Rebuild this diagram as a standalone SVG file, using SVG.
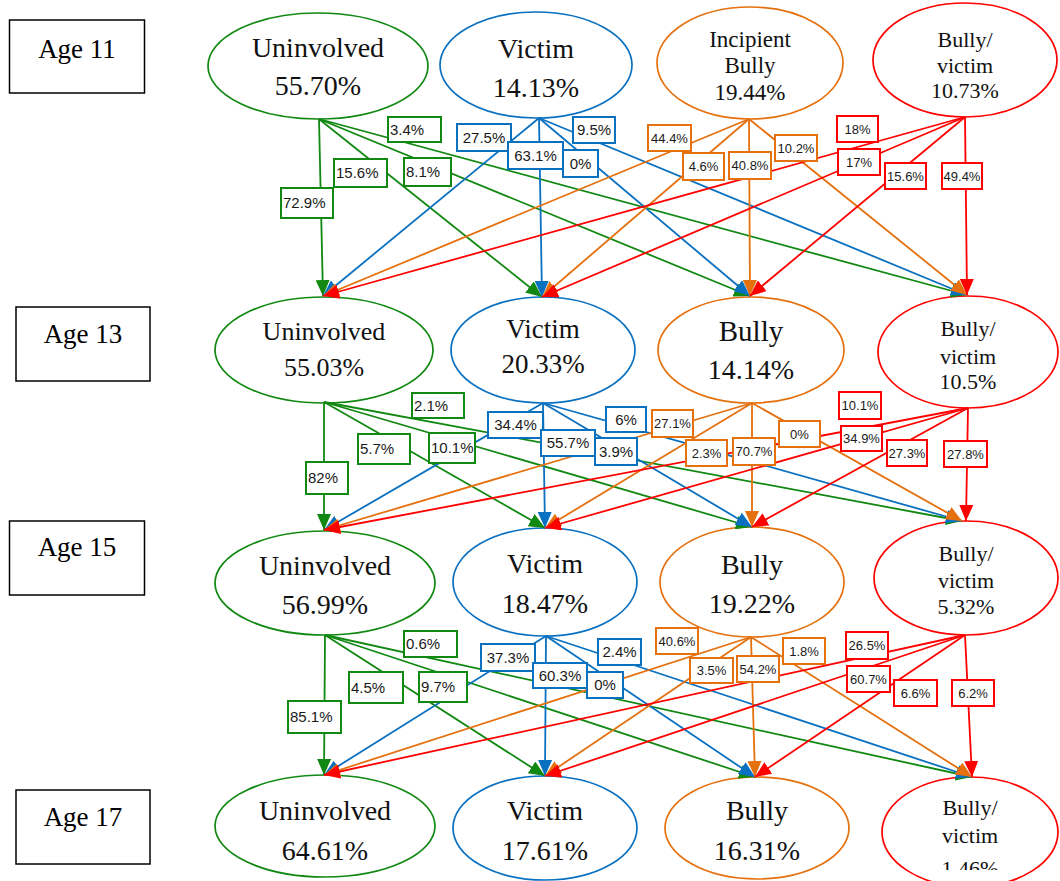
<svg xmlns="http://www.w3.org/2000/svg" width="1060" height="881" viewBox="0 0 1060 881">
<style>
.bg{fill:#fff}
.age rect{fill:#fff;stroke:#000;stroke-width:1.5}
.age text{font-family:"Liberation Serif","Times New Roman",serif;font-size:27px;fill:#000;text-anchor:middle}
.nd text{font-family:"Liberation Serif","Times New Roman",serif;fill:#111;text-anchor:middle}
.nd ellipse{fill:#fff;stroke-width:1.7}
.g ellipse{stroke:#118811}.b ellipse{stroke:#0A70C0}.o ellipse{stroke:#E5700E}.r ellipse{stroke:#FF0000}
.big{font-size:28px}.med{font-size:23px}.sm{font-size:22px}
line{stroke-width:1.8;fill:none}
.eg{stroke:#118811;marker-end:url(#ag)}.eb{stroke:#0A70C0;marker-end:url(#ab)}.eo{stroke:#E5700E;marker-end:url(#ao)}.er{stroke:#FF0000;marker-end:url(#ar)}
.lb rect{fill:#fff;stroke-width:2}
.lb text{font-family:"Liberation Sans",Arial,sans-serif;fill:#1a1a1a}
.lg rect{stroke:#118811}.lbl rect{stroke:#0A70C0}.lo rect{stroke:#E5700E}.lr rect{stroke:#FF0000}
.lg text{font-size:15px}.lbl text{font-size:15px;text-anchor:middle}.lo text,.lr text{font-size:13px;text-anchor:middle}
</style>
<defs>
<marker id="ag" markerUnits="userSpaceOnUse" markerWidth="16" markerHeight="14" viewBox="0 0 16 14" refX="16" refY="7" orient="auto"><path d="M0,0 L16,7 L0,14 z" fill="#118811"/></marker>
<marker id="ab" markerUnits="userSpaceOnUse" markerWidth="16" markerHeight="14" viewBox="0 0 16 14" refX="16" refY="7" orient="auto"><path d="M0,0 L16,7 L0,14 z" fill="#0A70C0"/></marker>
<marker id="ao" markerUnits="userSpaceOnUse" markerWidth="16" markerHeight="14" viewBox="0 0 16 14" refX="16" refY="7" orient="auto"><path d="M0,0 L16,7 L0,14 z" fill="#E5700E"/></marker>
<marker id="ar" markerUnits="userSpaceOnUse" markerWidth="16" markerHeight="14" viewBox="0 0 16 14" refX="16" refY="7" orient="auto"><path d="M0,0 L16,7 L0,14 z" fill="#FF0000"/></marker>
<clipPath id="clipbv"><rect x="880" y="770" width="180" height="100"/></clipPath>
</defs>
<rect class="bg" x="0" y="0" width="1060" height="881"/>

<g id="age-11" class="age"><rect x="9.5" y="20" width="135" height="73"/><text x="77" y="58">Age 11</text></g>
<g id="age-13" class="age"><rect x="16" y="307" width="134" height="74"/><text x="83" y="343">Age 13</text></g>
<g id="age-15" class="age"><rect x="9.5" y="521" width="135" height="74"/><text x="77" y="556">Age 15</text></g>
<g id="age-17" class="age"><rect x="16" y="790" width="134" height="74"/><text x="83" y="826">Age 17</text></g>

<!-- Nodes -->
<g id="a11-uninvolved" class="nd g"><ellipse cx="318" cy="66" rx="110" ry="53"/><text class="big" x="318" y="57">Uninvolved</text><text class="big" x="318" y="95">55.70%</text></g>
<g id="a11-victim" class="nd b"><ellipse cx="536" cy="65" rx="96" ry="53"/><text class="big" x="536" y="58">Victim</text><text class="big" x="536" y="97">14.13%</text></g>
<g id="a11-incipient-bully" class="nd o"><ellipse cx="750" cy="63" rx="93" ry="56"/><text class="med" x="750" y="47">Incipient</text><text class="med" x="750" y="73">Bully</text><text class="med" x="750" y="100">19.44%</text></g>
<g id="a11-bully-victim" class="nd r"><ellipse cx="965" cy="60" rx="92" ry="57"/><text class="sm" x="965" y="47">Bully/</text><text class="sm" x="965" y="73">victim</text><text class="sm" x="965" y="98">10.73%</text></g>

<g id="a13-uninvolved" class="nd g"><ellipse cx="324" cy="350" rx="109" ry="53"/><text style="font-size:26px" x="324" y="340">Uninvolved</text><text style="font-size:26px" x="324" y="376">55.03%</text></g>
<g id="a13-victim" class="nd b"><ellipse cx="543" cy="350" rx="92" ry="53"/><text style="font-size:27px" x="543" y="338">Victim</text><text style="font-size:27px" x="543" y="373">20.33%</text></g>
<g id="a13-bully" class="nd o"><ellipse cx="751" cy="350" rx="93" ry="53"/><text style="font-size:29px" x="751" y="341">Bully</text><text class="big" x="751" y="379">14.14%</text></g>
<g id="a13-bully-victim" class="nd r"><ellipse cx="968" cy="352" rx="90" ry="56"/><text class="sm" x="968" y="336">Bully/</text><text class="sm" x="968" y="364">victim</text><text class="sm" x="968" y="389">10.5%</text></g>

<g id="a15-uninvolved" class="nd g"><ellipse cx="325" cy="583" rx="110" ry="52"/><text class="big" x="325" y="575">Uninvolved</text><text class="big" x="325" y="614">56.99%</text></g>
<g id="a15-victim" class="nd b"><ellipse cx="545" cy="582" rx="92" ry="54"/><text class="big" x="545" y="573">Victim</text><text class="big" x="545" y="613">18.47%</text></g>
<g id="a15-bully" class="nd o"><ellipse cx="752" cy="582" rx="92" ry="55"/><text class="big" x="752" y="574">Bully</text><text class="big" x="752" y="613">19.22%</text></g>
<g id="a15-bully-victim" class="nd r"><ellipse cx="966" cy="578" rx="92" ry="57"/><text class="sm" x="966" y="561">Bully/</text><text class="sm" x="966" y="588">victim</text><text class="sm" x="966" y="614">5.32%</text></g>

<g id="a17-uninvolved" class="nd g"><ellipse cx="325" cy="826" rx="110" ry="51"/><text class="big" x="325" y="820">Uninvolved</text><text class="big" x="325" y="860">64.61%</text></g>
<g id="a17-victim" class="nd b"><ellipse cx="545" cy="828" rx="92" ry="52"/><text class="big" x="545" y="820">Victim</text><text class="big" x="545" y="860">17.61%</text></g>
<g id="a17-bully" class="nd o"><ellipse cx="757" cy="828" rx="92" ry="51"/><text class="big" x="757" y="820">Bully</text><text class="big" x="757" y="860">16.31%</text></g>
<g id="a17-bully-victim" class="nd r"><ellipse cx="970" cy="832" rx="88" ry="55"/><text class="sm" x="970" y="815">Bully/</text><text class="sm" x="970" y="843">victim</text><text class="sm" x="970" y="876" clip-path="url(#clipbv)">1.46%</text></g>

<g id="connectors">
<!-- Age 11 -> 13 -->
<line class="eg" x1="319" y1="119" x2="323" y2="296"/>
<line class="eg" x1="319" y1="119" x2="542" y2="297"/>
<line class="eg" x1="319" y1="119" x2="750" y2="296"/>
<line class="eg" x1="319" y1="119" x2="967" y2="295"/>
<line class="eb" x1="539" y1="118" x2="323" y2="296"/>
<line class="eb" x1="539" y1="118" x2="542" y2="297"/>
<line class="eb" x1="539" y1="118" x2="750" y2="296"/>
<line class="eb" x1="539" y1="118" x2="967" y2="295"/>
<line class="eo" x1="749" y1="119" x2="323" y2="296"/>
<line class="eo" x1="749" y1="119" x2="542" y2="297"/>
<line class="eo" x1="749" y1="119" x2="750" y2="296"/>
<line class="eo" x1="749" y1="119" x2="967" y2="295"/>
<line class="er" x1="965" y1="117" x2="323" y2="296"/>
<line class="er" x1="965" y1="117" x2="542" y2="297"/>
<line class="er" x1="965" y1="117" x2="750" y2="296"/>
<line class="er" x1="965" y1="117" x2="967" y2="295"/>
<!-- Age 13 -> 15 -->
<line class="eg" x1="324" y1="402" x2="324" y2="530"/>
<line class="eg" x1="324" y1="402" x2="545" y2="528"/>
<line class="eg" x1="324" y1="402" x2="752" y2="527"/>
<line class="eg" x1="324" y1="402" x2="962" y2="521"/>
<line class="eb" x1="543" y1="403" x2="324" y2="530"/>
<line class="eb" x1="543" y1="403" x2="545" y2="528"/>
<line class="eb" x1="543" y1="403" x2="752" y2="527"/>
<line class="eb" x1="543" y1="403" x2="962" y2="521"/>
<line class="eo" x1="752" y1="403" x2="324" y2="530"/>
<line class="eo" x1="752" y1="403" x2="545" y2="528"/>
<line class="eo" x1="752" y1="403" x2="752" y2="527"/>
<line class="eo" x1="752" y1="403" x2="962" y2="521"/>
<line class="er" x1="968" y1="408" x2="324" y2="530"/>
<line class="er" x1="968" y1="408" x2="545" y2="528"/>
<line class="er" x1="968" y1="408" x2="752" y2="527"/>
<line class="er" x1="968" y1="408" x2="966" y2="521"/>
<!-- Age 15 -> 17 -->
<line class="eg" x1="325" y1="635" x2="324" y2="775"/>
<line class="eg" x1="325" y1="635" x2="545" y2="776"/>
<line class="eg" x1="325" y1="635" x2="755" y2="777"/>
<line class="eg" x1="325" y1="635" x2="972" y2="777"/>
<line class="eb" x1="546" y1="636" x2="324" y2="775"/>
<line class="eb" x1="546" y1="636" x2="545" y2="776"/>
<line class="eb" x1="546" y1="636" x2="755" y2="777"/>
<line class="eb" x1="546" y1="636" x2="972" y2="777"/>
<line class="eo" x1="751" y1="637" x2="324" y2="775"/>
<line class="eo" x1="751" y1="637" x2="545" y2="776"/>
<line class="eo" x1="751" y1="637" x2="755" y2="777"/>
<line class="eo" x1="751" y1="637" x2="972" y2="777"/>
<line class="er" x1="965" y1="635" x2="324" y2="775"/>
<line class="er" x1="965" y1="635" x2="545" y2="776"/>
<line class="er" x1="965" y1="635" x2="755" y2="777"/>
<line class="er" x1="965" y1="635" x2="972" y2="777"/>

<!-- labels 11 -> 13 -->
<g class="lb lg">
<rect x="281" y="188" width="52" height="30"/><text x="283" y="208">72.9%</text>
<rect x="334" y="159" width="53" height="28"/><text x="336" y="178">15.6%</text>
<rect x="404" y="158" width="47" height="28"/><text x="406" y="177">8.1%</text>
<rect x="388" y="117" width="53" height="25"/><text x="390" y="135">3.4%</text>
</g>
<g class="lb lbl">
<rect x="457" y="124" width="54" height="27"/><text x="484" y="143">27.5%</text>
<rect x="508" y="142" width="55" height="27"/><text x="535.5" y="161">63.1%</text>
<rect x="563" y="150" width="35" height="27"/><text x="580.5" y="169">0%</text>
<rect x="573" y="117" width="42" height="26"/><text x="594" y="135">9.5%</text>
</g>
<g class="lb lo">
<rect x="648" y="125" width="43" height="26"/><text x="669.5" y="142.5">44.4%</text>
<rect x="683" y="153" width="41" height="27"/><text x="703.5" y="171">4.6%</text>
<rect x="729" y="152" width="42" height="27"/><text x="750" y="170">40.8%</text>
<rect x="775" y="135" width="42" height="26"/><text x="796" y="152.5">10.2%</text>
</g>
<g class="lb lr">
<rect x="837" y="116" width="41" height="26"/><text x="857.5" y="133.5">18%</text>
<rect x="838" y="149" width="42" height="26"/><text x="859" y="166.5">17%</text>
<rect x="885" y="163" width="41" height="26"/><text x="905.5" y="180.5">15.6%</text>
<rect x="942" y="163" width="40" height="26"/><text x="962" y="180.5">49.4%</text>
</g>
<!-- labels 13 -> 15 -->
<g class="lb lg">
<rect x="306" y="462" width="42" height="32"/><text x="308" y="483">82%</text>
<rect x="358" y="434" width="52" height="30"/><text x="360" y="454">5.7%</text>
<rect x="429" y="433" width="46" height="30"/><text x="431" y="453">10.1%</text>
<rect x="412" y="393" width="52" height="25"/><text x="414" y="411">2.1%</text>
</g>
<g class="lb lbl">
<rect x="488" y="412" width="55" height="26"/><text x="515.5" y="430">34.4%</text>
<rect x="541" y="430" width="54" height="26"/><text x="568" y="448">55.7%</text>
<rect x="595" y="438" width="42" height="27"/><text x="616" y="457">3.9%</text>
<rect x="606" y="407" width="40" height="25"/><text x="626" y="425">6%</text>
</g>
<g class="lb lo">
<rect x="652" y="410" width="41" height="27"/><text x="672.5" y="428">27.1%</text>
<rect x="686" y="440" width="41" height="26"/><text x="706.5" y="457.5">2.3%</text>
<rect x="733" y="438" width="42" height="27"/><text x="754" y="456">70.7%</text>
<rect x="779" y="421" width="41" height="26"/><text x="799.5" y="438.5">0%</text>
</g>
<g class="lb lr">
<rect x="839" y="392" width="42" height="27"/><text x="860" y="410">10.1%</text>
<rect x="841" y="426" width="41" height="25"/><text x="861.5" y="443">34.9%</text>
<rect x="887" y="440" width="40" height="26"/><text x="907" y="457.5">27.3%</text>
<rect x="944" y="441" width="43" height="26"/><text x="965.5" y="458.5">27.8%</text>
</g>
<!-- labels 15 -> 17 -->
<g class="lb lg">
<rect x="288" y="701" width="53" height="32"/><text x="290" y="722">85.1%</text>
<rect x="349" y="672" width="54" height="31"/><text x="351" y="692.5">4.5%</text>
<rect x="419" y="672" width="48" height="30"/><text x="421" y="692">9.7%</text>
<rect x="404" y="631" width="53" height="26"/><text x="406" y="649">0.6%</text>
</g>
<g class="lb lbl">
<rect x="481" y="644" width="54" height="27"/><text x="508" y="663">37.3%</text>
<rect x="533" y="663" width="54" height="25"/><text x="560" y="681">60.3%</text>
<rect x="587" y="672" width="36" height="26"/><text x="605" y="690">0%</text>
<rect x="598" y="639" width="43" height="26"/><text x="619.5" y="657">2.4%</text>
</g>
<g class="lb lo">
<rect x="656" y="628" width="42" height="26"/><text x="677" y="645.5">40.6%</text>
<rect x="690" y="658" width="43" height="25"/><text x="711.5" y="675">3.5%</text>
<rect x="737" y="656" width="42" height="26"/><text x="758" y="673.5">54.2%</text>
<rect x="783" y="638" width="42" height="26"/><text x="804" y="655.5">1.8%</text>
</g>
<g class="lb lr">
<rect x="846" y="632" width="42" height="27"/><text x="867" y="650">26.5%</text>
<rect x="847" y="666" width="43" height="26"/><text x="868.5" y="683.5">60.7%</text>
<rect x="894" y="680" width="43" height="26"/><text x="915.5" y="697.5">6.6%</text>
<rect x="952" y="680" width="42" height="26"/><text x="973" y="697.5">6.2%</text>
</g>
</g>
</svg>
